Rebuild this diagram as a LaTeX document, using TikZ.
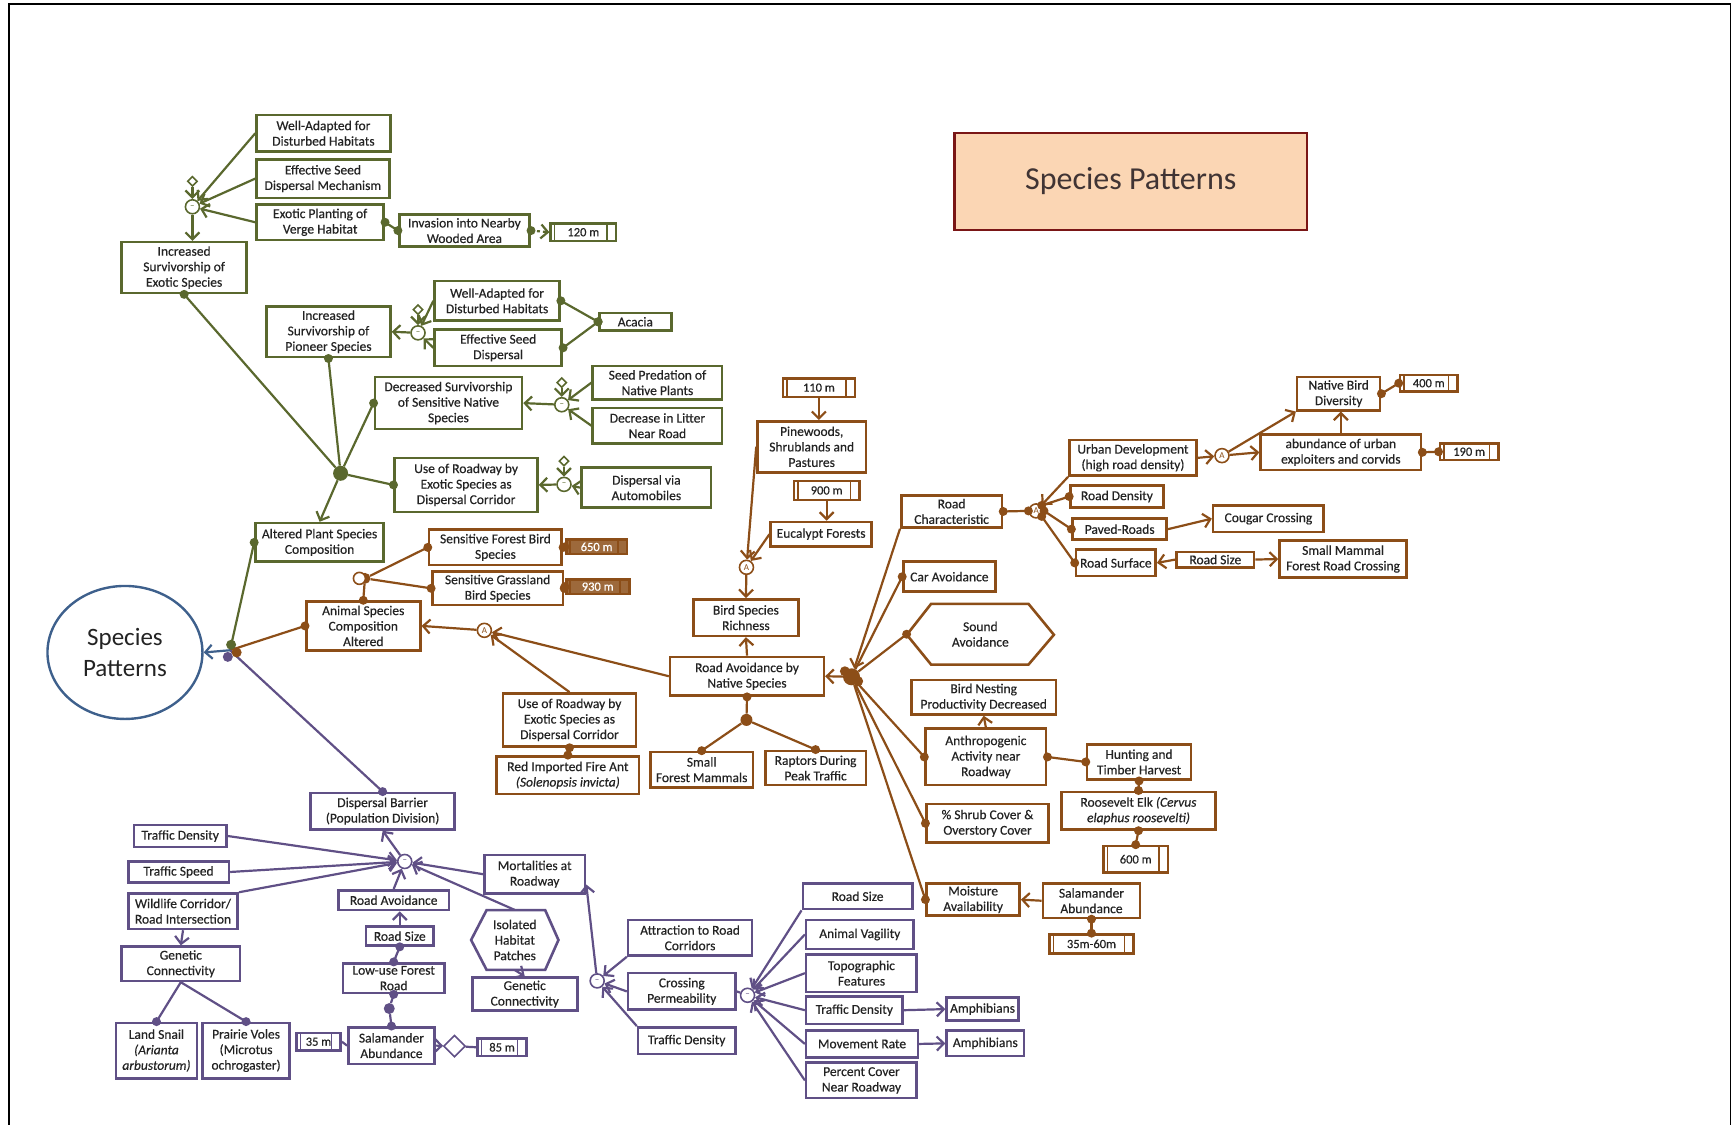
\documentclass[tikz,border=0pt]{standalone}
\usepackage{fontspec}
\setmainfont{Carlito}
\newfontfamily\bxfam[FakeBold=0.4]{Carlito}
\usetikzlibrary{arrows.meta,shapes.geometric,calc}

\definecolor{gre}{RGB}{90,104,46}
\definecolor{brn}{RGB}{140,78,24}
\definecolor{pur}{RGB}{96,80,134}
\definecolor{blu}{RGB}{62,96,140}
\definecolor{txt}{RGB}{35,35,35}
\definecolor{peach}{RGB}{251,214,180}
\definecolor{dred}{RGB}{122,22,22}
\definecolor{ttl}{RGB}{64,52,52}

\newcommand\bxfont{\bxfam\fontsize{13.5}{15.5}\selectfont}
\newcommand\smfont{\bxfam\fontsize{12.5}{13}\selectfont}
% box from corner (x1,y1) to corner (x2,y2)
\newcommand\mkbox[7]{\node[#1, minimum width={(#5-#3)*1.1059pt}, minimum height={(#6-#4)*1.1059pt}] (#2) at ({(#3+#5)/2},{(#4+#6)/2}) {#7};}
\newcommand\dt[2]{\fill[#1] #2 circle[radius=4.5pt];}
\newcommand\dln[3]{\draw[con=#1] #2 -- #3; \dt{#1}{#2}\dt{#1}{#3}}

\tikzset{
  box/.style={draw=#1, line width=2.6pt, fill=white, inner sep=0.5pt, align=center, text=txt, font=\bxfont},
  mbox/.style={box=#1, font=\smfont, path picture={
      \draw[draw=#1, line width=1.5pt]
        ([xshift=4pt]path picture bounding box.south west) -- ([xshift=4pt]path picture bounding box.north west)
        ([xshift=-9pt]path picture bounding box.south east) -- ([xshift=-9pt]path picture bounding box.north east);}},
  fbox/.style={mbox=#1, fill=#1!85, text=white},
  con/.style={draw=#1, line width=2.2pt},
  arr/.style={con=#1, -{Straight Barb[length=7pt,width=14pt]}},
  hub/.style={circle, draw=#1, fill=white, line width=1.6pt, minimum size=14pt, inner sep=0pt, font=\fontsize{9}{9}\selectfont, text=#1},
  fhub/.style={circle, fill=#1, minimum size=15pt, inner sep=0pt},
  dia/.style={diamond, draw=#1, fill=white, line width=1.6pt, minimum size=10pt, inner sep=0pt},
  hexa/.style={draw=#1, line width=2.6pt, fill=white, line join=miter},
}

\begin{document}
\begin{tikzpicture}[x=1.1059pt, y=-1.1059pt]
\useasboundingbox (0,0) rectangle (1568,1017);
\draw[line width=1.4pt] (8,1017) -- (8,3.5) -- (1565,3.5) -- (1565,1017);

% ---------- title and root ----------
\mkbox{draw=dred, fill=peach, line width=2.4pt, font=\fontsize{32}{38}\selectfont, text=ttl}{title}{863}{120}{1182}{208}{Species Patterns}
\node[ellipse, draw=blu, line width=2.4pt, minimum width=155pt, minimum height=133pt, align=center,
      font=\fontsize{25}{31}\selectfont, text=txt] (circ) at (113,590) {Species\\Patterns};
\coordinate (ch) at (208,588);

% ---------- plant branch (green) ----------
\mkbox{box=gre}{g_wa1}{232}{104}{353}{137}{Well-Adapted for\\Disturbed Habitats}
\mkbox{box=gre}{g_es1}{232}{144}{352}{179}{Effective Seed\\Dispersal Mechanism}
\mkbox{box=gre}{g_ep}{232}{185}{347}{217}{Exotic Planting of\\Verge Habitat}
\mkbox{box=gre}{g_inv}{361}{194}{479}{223}{Invasion into Nearby\\Wooded Area}
\mkbox{mbox=gre}{g_120}{498}{202}{557}{218}{120 m}
\mkbox{box=gre}{g_inc_ex}{110}{219}{223}{265}{Increased\\Survivorship of\\Exotic Species}
\mkbox{box=gre}{g_inc_pi}{241}{277}{353}{323}{Increased\\Survivorship of\\Pioneer Species}
\mkbox{box=gre}{g_wa2}{393}{254}{506}{290}{Well-Adapted for\\Disturbed Habitats}
\mkbox{box=gre}{g_es2}{393}{298}{508}{331}{Effective Seed\\Dispersal}
\mkbox{box=gre}{g_acacia}{542}{283}{607}{299}{Acacia}
\mkbox{box=gre}{g_dec}{339}{341}{472}{388}{Decreased Survivorship\\of Sensitive Native\\Species}
\mkbox{box=gre}{g_seed}{536}{331}{653}{361}{Seed Predation of\\Native Plants}
\mkbox{box=gre}{g_litter}{536}{369}{653}{401}{Decrease in Litter\\Near Road}
\mkbox{box=gre}{g_use}{357}{414}{486}{463}{Use of Roadway by\\Exotic Species as\\Dispersal Corridor}
\mkbox{box=gre}{g_auto}{526}{423}{643}{459}{Dispersal via\\Automobiles}
\mkbox{box=gre}{g_alt}{231}{473}{347}{508}{Altered Plant Species\\Composition}

\node[hub=gre] (h1) at (174,187) {--};
\node[hub=gre] (h2) at (378,301) {--};
\node[hub=gre] (h3) at (508,366) {--};
\node[hub=gre] (h4) at (510,438) {--};
\node[dia=gre] (d1) at (174,164) {};
\node[dia=gre] (d2) at (378,280) {};
\node[dia=gre] (d3) at (508,346) {};
\node[dia=gre] (d4) at (510,417) {};
\node[fhub=gre] (gh) at (308,428) {};

% ---------- animal branch (brown) ----------
\mkbox{box=brn}{b_sfb}{388}{479}{508}{511}{Sensitive Forest Bird\\Species}
\mkbox{box=brn}{b_sgb}{391}{517}{509}{547}{Sensitive Grassland\\Bird Species}
\mkbox{fbox=brn}{b_650}{512}{488}{567}{501}{650 m}
\mkbox{fbox=brn}{b_930}{512}{524}{569}{537}{930 m}
\mkbox{box=brn}{b_animal}{277}{544}{380}{588}{Animal Species\\Composition\\Altered}
\mkbox{box=brn}{b_use2}{455}{627}{575}{675}{Use of Roadway by\\Exotic Species as\\Dispersal Corridor}
\mkbox{box=brn}{b_fire}{449}{684}{578}{718}{Red Imported Fire Ant\\\textit{(Solenopsis invicta)}}
\mkbox{box=brn}{b_rav}{606}{594}{745}{629}{Road Avoidance by\\Native Species}
\mkbox{box=brn}{b_rich}{627}{542}{722}{575}{Bird Species\\Richness}
\mkbox{mbox=brn}{b_110}{708}{342}{773}{359}{110 m}
\mkbox{box=brn}{b_pine}{685}{381}{783}{427}{Pinewoods,\\Shrublands and\\Pastures}
\mkbox{mbox=brn}{b_900}{718}{435}{777}{452}{900 m}
\mkbox{box=brn}{b_euca}{697}{472}{788}{494}{Eucalypt Forests}
\mkbox{box=brn}{b_small}{588}{680}{681}{712}{Small\\Forest Mammals}
\mkbox{box=brn}{b_rapt}{692}{679}{783}{710}{Raptors During\\Peak Traffic}
\mkbox{box=brn}{b_char}{815}{448}{906}{477}{Road\\Characteristic}
\mkbox{box=brn}{b_car}{817}{508}{900}{535}{Car Avoidance}
\draw[hexa=brn] (820,574) -- (842,546) -- (930,546) -- (953,574) -- (930,601) -- (842,601) -- cycle;
\node[align=center, text=txt, font=\bxfont, inner sep=0pt, minimum width={133*1.1059pt}, minimum height={55*1.1059pt}] (b_sound) at (886.5,573.5) {Sound\\Avoidance};
\mkbox{box=brn}{b_nest}{824}{615}{955}{646}{Bird Nesting\\Productivity Decreased}
\mkbox{box=brn}{b_anth}{837}{659}{946}{710}{Anthropogenic\\Activity near\\Roadway}
\mkbox{box=brn}{b_shrub}{838}{727}{948}{762}{\% Shrub Cover \&\\Overstory Cover}
\mkbox{box=brn}{b_moist}{838}{799}{922}{828}{Moisture\\Availability}
\mkbox{box=brn}{b_hunt}{983}{673}{1077}{705}{Hunting and\\Timber Harvest}
\mkbox{box=brn}{b_elk}{960}{716}{1099}{750}{Roosevelt Elk \textit{(Cervus}\\\textit{elaphus roosevelti)}}
\mkbox{mbox=brn}{b_600}{998}{765}{1056}{789}{600 m}
\mkbox{box=brn}{b_sal}{943}{799}{1031}{830}{Salamander\\Abundance}
\mkbox{mbox=brn}{b_3560}{949}{845}{1025}{862}{35m-60m}
\mkbox{box=brn}{b_urban}{967}{398}{1082}{430}{Urban Development\\(high road density)}
\mkbox{box=brn}{b_rdens}{968}{439}{1052}{459}{Road Density}
\mkbox{box=brn}{b_paved}{970}{469}{1055}{488}{Paved-Roads}
\mkbox{box=brn}{b_rsurf}{973}{497}{1045}{521}{Road Surface}
\mkbox{box=brn}{b_cougar}{1097}{457}{1197}{481}{Cougar Crossing}
\mkbox{box=brn}{b_rsize}{1064}{499}{1134}{513}{Road Size}
\mkbox{box=brn}{b_smm}{1157}{489}{1272}{522}{Small Mammal\\Forest Road Crossing}
\mkbox{box=brn}{b_nbd}{1173}{341}{1248}{371}{Native Bird\\Diversity}
\mkbox{mbox=brn}{b_400}{1266}{339}{1318}{354}{400 m}
\mkbox{box=brn}{b_abund}{1140}{393}{1285}{425}{abundance of urban\\exploiters and corvids}
\mkbox{mbox=brn}{b_190}{1302}{401}{1355}{416}{190 m}

\node[fhub=brn, minimum size=11pt] (hb1) at (330,523) {};
\node[hub=brn] (hb2) at (438,570) {A};
\node[hub=brn] (hb3) at (675,513) {A};
\node[fhub=brn, minimum size=12pt] (hb4) at (675,651) {};
\node[fhub=brn, minimum size=17pt] (hb5) at (770,612) {};
\node[hub=brn] (hb6) at (937,462) {A};
\node[hub=brn] (hb7) at (1105,412) {A};

% ---------- barrier branch (purple) ----------
\mkbox{box=pur}{p_disp}{281}{717}{411}{750}{Dispersal Barrier\\(Population Division)}
\mkbox{box=pur}{p_td1}{121}{746}{205}{766}{Traffic Density}
\mkbox{box=pur}{p_ts}{116}{779}{207}{798}{Traffic Speed}
\mkbox{box=pur}{p_wc}{116}{808}{215}{840}{Wildlife Corridor/\\Road Intersection}
\mkbox{box=pur}{p_gc1}{110}{856}{217}{887}{Genetic\\Connectivity}
\mkbox{box=pur}{p_snail}{105}{925}{178}{975}{Land Snail\\\textit{(Arianta}\\\textit{arbustorum)}}
\mkbox{box=pur}{p_voles}{183}{925}{262}{975}{Prairie Voles\\(Microtus\\ochrogaster)}
\mkbox{mbox=pur}{p_35}{268}{934}{308}{950}{35 m}
\mkbox{box=pur}{p_sal}{315}{929}{393}{962}{Salamander\\Abundance}
\mkbox{mbox=pur}{p_85}{432}{939}{476}{955}{85 m}
\mkbox{box=pur}{p_rav}{306}{805}{406}{823}{Road Avoidance}
\mkbox{box=pur}{p_rsize}{331}{838}{392}{855}{Road Size}
\mkbox{box=pur}{p_low}{310}{871}{402}{898}{Low-use Forest\\Road}
\mkbox{box=pur}{p_mort}{438}{773}{529}{808}{Mortalities at\\Roadway}
\draw[hexa=pur] (426,850) -- (440,823) -- (493,823) -- (505,850) -- (493,877) -- (440,877) -- cycle;
\node[align=center, text=txt, font=\bxfont, inner sep=0pt, minimum width={79*1.1059pt}, minimum height={54*1.1059pt}] (p_iso) at (465.5,850) {Isolated\\Habitat\\Patches};
\mkbox{box=pur}{p_gc2}{427}{884}{522}{914}{Genetic\\Connectivity}
\mkbox{box=pur}{p_attr}{568}{832}{680}{864}{Attraction to Road\\Corridors}
\mkbox{box=pur}{p_cross}{568}{880}{665}{913}{Crossing\\Permeability}
\mkbox{box=pur}{p_td2}{577}{929}{665}{953}{Traffic Density}
\mkbox{box=pur}{p_rs2}{726}{799}{825}{822}{Road Size}
\mkbox{box=pur}{p_vag}{729}{832}{826}{858}{Animal Vagility}
\mkbox{box=pur}{p_topo}{729}{863}{829}{897}{Topographic\\Features}
\mkbox{box=pur}{p_td3}{729}{901}{816}{926}{Traffic Density}
\mkbox{box=pur}{p_move}{729}{932}{830}{956}{Movement Rate}
\mkbox{box=pur}{p_pct}{729}{961}{829}{993}{Percent Cover\\Near Roadway}
\mkbox{box=pur}{p_amph1}{856}{902}{921}{923}{Amphibians}
\mkbox{box=pur}{p_amph2}{856}{932}{926}{955}{Amphibians}

\node[hub=pur] (hp1) at (366,779) {--};
\node[hub=pur] (hp2) at (540,887) {--};
\node[hub=pur] (hp3) at (676,900) {--};
\node[fhub=pur, minimum size=11pt] (hp4) at (352,912) {};
\node[dia=pur, minimum size=22pt] (p_dia) at (411,946) {};

% ---------- connectors: plants ----------
\draw[arr=gre] (g_wa1.west) -- (h1);
\draw[arr=gre] (g_es1.west) -- (h1);
\draw[arr=gre] (g_ep.west) -- (h1);
\draw[arr=gre] (d1) -- (h1);
\draw[arr=gre] (h1) -- (h1 |- g_inc_ex.north);
\dln{gre}{(g_ep.east)}{(g_inv.west)}
\draw[arr=gre, dashed] (g_inv.east) -- (g_120.west);
\dt{gre}{(g_inv.east)}
\draw[arr=gre] (g_wa2.west) -- (h2);
\draw[arr=gre] (g_es2.west) -- (h2);
\draw[arr=gre] (d2) -- (h2);
\draw[arr=gre] (h2) -- (g_inc_pi.east);
\dln{gre}{(g_wa2.east)}{(g_acacia.west)}
\dln{gre}{(g_es2.east)}{(g_acacia.west)}
\draw[arr=gre] (g_seed.west) -- (h3);
\draw[arr=gre] (g_litter.west) -- (h3);
\draw[arr=gre] (d3) -- (h3);
\draw[arr=gre] (h3) -- (g_dec.east);
\draw[arr=gre] (g_auto.west) -- (h4);
\draw[arr=gre] (d4) -- (h4);
\draw[arr=gre] (h4) -- (g_use.east);
\draw[con=gre] (g_inc_ex.south) -- (gh);  \dt{gre}{(g_inc_ex.south)}
\draw[con=gre] (g_inc_pi.south) -- (gh);  \dt{gre}{(g_inc_pi.south)}
\draw[con=gre] (g_dec.west) -- (gh);      \dt{gre}{(g_dec.west)}
\draw[con=gre] (g_use.west) -- (gh);      \dt{gre}{(g_use.west)}
\draw[arr=gre] (gh) -- (g_alt.north);
\draw[con=gre] (g_alt.west) -- (ch);      \dt{gre}{(g_alt.west)}

% ---------- connectors: animals ----------
\draw[con=brn] (ch) -- (b_animal.west);   \dt{brn}{(b_animal.west)}
\dln{brn}{(b_animal.north)}{(hb1)}
\dln{brn}{(hb1)}{(b_sfb.west)}
\dln{brn}{(hb1)}{(b_sgb.west)}
\draw[con=brn, line width=1.6pt, fill=white] ($(hb1)+(-5,0)$) circle[radius=6pt];
\dln{brn}{(b_sfb.east)}{(b_650.west)}
\dln{brn}{(b_sgb.east)}{(b_930.west)}
\draw[arr=brn] (b_rav.west) -- (hb2);
\draw[arr=brn] (b_use2.north) -- (hb2);
\draw[arr=brn] (hb2) -- (b_animal.east);
\dln{brn}{(b_use2.south)}{(b_fire.north)}
\draw[arr=brn] (b_rav.north) -- (b_rich.south);
\draw[arr=brn] (hb3) -- (b_rich.north);
\draw[arr=brn] (b_pine.west) -- (hb3);
\draw[arr=brn] (b_euca.west) -- (hb3);
\draw[arr=brn] (b_110.south) -- (b_110.south |- b_pine.north);
\draw[arr=brn] (b_900.south) -- (b_900.south |- b_euca.north);
\dln{brn}{(b_rav.south)}{(hb4)}
\dln{brn}{(hb4)}{(b_small.north)}
\dln{brn}{(hb4)}{(b_rapt.north)}
\draw[arr=brn] (hb5) -- (b_rav.east);
\draw[arr=brn] (b_char.south west) -- (hb5);
\draw[con=brn] (b_car.west) -- (hb5);     \dt{brn}{(b_car.west)}
\draw[con=brn] (b_sound.west) -- (hb5);   \dt{brn}{(b_sound.west)}
\draw[con=brn] (b_anth.west) -- (hb5);    \dt{brn}{(b_anth.west)}
\draw[con=brn] (b_shrub.west) -- (hb5);   \dt{brn}{(b_shrub.west)}
\draw[con=brn] (b_moist.west) -- (hb5);   \dt{brn}{(b_moist.west)}
\fill[brn] ($(hb5)+(-6,-5)$) circle[radius=5pt] ($(hb5)+(6,4)$) circle[radius=5pt];
\draw[arr=brn] (b_anth.north) -- (b_nest.south);
\dln{brn}{(b_anth.east)}{(b_hunt.west)}
\dln{brn}{(b_hunt.south)}{(b_elk.north)}
\dln{brn}{(b_elk.south)}{(b_600.north)}
\draw[arr=brn] (b_sal.west) -- (b_moist.east);
\dln{brn}{(b_sal.south)}{(b_3560.north)}
\dln{brn}{(b_char.east)}{(hb6.west)}
\draw[arr=brn] (b_urban.south west) -- (hb6);
\dln{brn}{(hb6.north east)}{(b_rdens.west)}
\dln{brn}{(hb6.east)}{(b_paved.west)}
\dln{brn}{(hb6.south east)}{(b_rsurf.west)}
\draw[arr=brn] (b_paved.east) -- (b_cougar.west);
\draw[arr=brn] (b_rsize.west) -- (b_rsurf.east);
\draw[arr=brn] (b_rsize.east) -- (b_smm.west);
\draw[arr=brn] (b_urban.east) -- (hb7);
\draw[arr=brn] (hb7) -- (b_nbd.south west);
\draw[arr=brn] (hb7) -- (b_abund.west);
\draw[arr=brn] (b_abund.north) -- (b_abund.north |- b_nbd.south);
\dln{brn}{(b_nbd.east)}{(b_400.west)}
\dln{brn}{(b_abund.east)}{(b_190.west)}

% ---------- connectors: barriers ----------
\draw[con=pur] (ch) -- (p_disp.north);    \dt{pur}{(p_disp.north)}
\draw[arr=pur] (hp1) -- (p_disp.south);
\draw[arr=pur] (p_td1.east) -- (hp1);
\draw[arr=pur] (p_ts.east) -- (hp1);
\draw[arr=pur] (p_wc.north east) -- (hp1);
\draw[arr=pur] (p_rav.north) -- (hp1);
\draw[arr=pur] (p_mort.west) -- (hp1);
\draw[arr=pur] (p_iso.north) -- (hp1);
\draw[arr=pur] (p_wc.south) -- (p_gc1.north);
\draw[con=pur] (p_gc1.south) -- (p_snail.north);  \dt{pur}{(p_snail.north)}
\draw[con=pur] (p_gc1.south) -- (p_voles.north);  \dt{pur}{(p_voles.north)}
\draw[con=pur] (p_sal.west) -- (p_35.east);
\draw[arr=pur] (p_sal.east) -- (p_dia);
\draw[con=pur] (p_dia) -- (p_85.west);
\draw[arr=pur] (p_rsize.north) -- (p_rsize.north |- p_rav.south);
\dln{pur}{(p_rsize.south)}{(p_low.north)}
\dln{pur}{(p_low.south)}{(hp4)}
\dln{pur}{(hp4)}{(p_sal.north)}
\draw[arr=pur] (p_iso.south) -- (p_gc2.north);
\draw[arr=pur] (hp2) -- ($(p_mort.south east)!0.5!(p_mort.east)$);
\draw[arr=pur] (p_attr.south west) -- (hp2);
\draw[arr=pur] (p_cross.west) -- (hp2);
\draw[arr=pur] (p_td2.north west) -- (hp2);
\draw[con=pur] (p_cross.east) -- (hp3);
\draw[arr=pur] (p_rs2.south west) -- (hp3);
\draw[arr=pur] (p_vag.west) -- (hp3);
\draw[arr=pur] (p_topo.west) -- (hp3);
\draw[arr=pur] (p_td3.west) -- (hp3);
\draw[arr=pur] (p_move.west) -- (hp3);
\draw[arr=pur] (p_pct.west) -- (hp3);
\draw[arr=pur] (p_td3.east) -- (p_amph1.west);
\draw[arr=pur] (p_move.east) -- (p_amph2.west);

% ---------- root junction ----------
\draw[arr=blu] (ch) -- (circ.east);
\fill[gre] (209,583) circle[radius=5pt];
\fill[brn] (214,590) circle[radius=5pt];
\fill[pur] (206,594) circle[radius=5pt];
\end{tikzpicture}
\end{document}
